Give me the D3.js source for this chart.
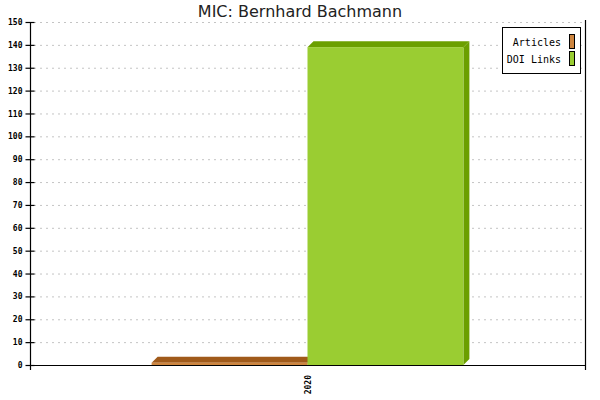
<!DOCTYPE html>
<html>
<head>
<meta charset="utf-8">
<script src="https://cdn.jsdelivr.net/npm/d3@7/dist/d3.min.js"></script>
<style>
  body { margin: 0; background: #fff; }
  svg { display: block; }
</style>
</head>
<body>
<script>
// chart data
var categories = ["2020"];
var seriesNames = ["Articles", "DOI Links"];
var articles = [1];
var doiLinks = [139];
var yTicks = [0, 10, 20, 30, 40, 50, 60, 70, 80, 90, 100, 110, 120, 130, 140, 150];

var frontColors = ["#cd853f", "#9acd32"];
var darkColors = ["#a05a1a", "#6b9f00"];

var W = 600, H = 400;
var plotLeft = 30, plotRight = 585, plotTop = 22, plotBottom = 365;
var depth = 6;

var svg = d3.select("body").append("svg")
    .attr("width", W)
    .attr("height", H);

var x = d3.scaleBand().domain(categories).range([plotLeft, plotRight]).paddingInner(0).paddingOuter(0);
var inner = d3.scaleBand().domain(seriesNames).range([0, x.bandwidth()]).paddingOuter(0.78).paddingInner(0);
var y = d3.scaleLinear().domain([0, 150]).range([plotBottom, plotTop]);

// grid
svg.append("g")
    .selectAll("line")
    .data(yTicks.filter(function (d) { return d > 0; }))
    .enter().append("line")
    .attr("x1", plotLeft + 4)
    .attr("x2", plotRight)
    .attr("y1", function (d) { return y(d) + 0.5; })
    .attr("y2", function (d) { return y(d) + 0.5; })
    .attr("stroke", "#c4c4c4")
    .attr("stroke-dasharray", "2,4");

// bars
var rows = [];
categories.forEach(function (c, i) {
    rows.push({ cat: c, s: 0, v: articles[i] });
    rows.push({ cat: c, s: 1, v: doiLinks[i] });
});

var bars = svg.append("g").selectAll("g").data(rows).enter().append("g");

bars.each(function (d) {
    var g = d3.select(this);
    var x0 = x(d.cat) + inner(seriesNames[d.s]);
    var w = inner.bandwidth();
    var y0 = y(d.v);
    var h = plotBottom - y0;
    // top face
    g.append("path")
        .attr("d", "M" + x0 + "," + y0 + "L" + (x0 + depth) + "," + (y0 - depth) +
            "L" + (x0 + w + depth) + "," + (y0 - depth) + "L" + (x0 + w) + "," + y0 + "Z")
        .attr("fill", darkColors[d.s]);
    // side face
    g.append("path")
        .attr("d", "M" + (x0 + w) + "," + y0 + "L" + (x0 + w + depth) + "," + (y0 - depth) +
            "L" + (x0 + w + depth) + "," + (plotBottom - depth) + "L" + (x0 + w) + "," + plotBottom + "Z")
        .attr("fill", darkColors[d.s]);
    // front
    g.append("rect")
        .attr("x", x0)
        .attr("y", y0)
        .attr("width", w)
        .attr("height", h)
        .attr("fill", frontColors[d.s]);
});

// y axis
var yAxis = d3.axisLeft(y).tickValues(yTicks).tickSize(5).tickPadding(6);
var gy = svg.append("g")
    .attr("transform", "translate(" + (plotLeft + 0.5) + ",0)")
    .call(yAxis);
gy.select(".domain").remove();
gy.selectAll(".tick line").attr("x2", 4).attr("x1", -5).attr("stroke", "#000").attr("stroke-width", 1.2);
gy.selectAll(".tick text")
    .attr("x", -8)
    .style("font-family", "DejaVu Sans Mono, monospace")
    .style("font-size", "8px")
    .style("font-weight", "bold")
    .attr("fill", "#000");

// axis lines
svg.append("line")
    .attr("x1", plotLeft + 0.5).attr("x2", plotLeft + 0.5)
    .attr("y1", plotTop).attr("y2", plotBottom + 5)
    .attr("stroke", "#000").attr("stroke-width", 1.2);
svg.append("line")
    .attr("x1", plotRight + 0.5).attr("x2", plotRight + 0.5)
    .attr("y1", plotTop - 2).attr("y2", plotBottom + 5)
    .attr("stroke", "#000").attr("stroke-width", 1.2);
svg.append("line")
    .attr("x1", plotLeft).attr("x2", plotRight)
    .attr("y1", plotBottom + 0.5).attr("y2", plotBottom + 0.5)
    .attr("stroke", "#000").attr("stroke-width", 1.2);

// x labels
svg.append("g").selectAll("text")
    .data(categories)
    .enter().append("text")
    .attr("transform", function (d) {
        return "translate(" + (x(d) + x.bandwidth() / 2 + 3) + "," + (plotBottom + 10) + ") rotate(-90)";
    })
    .attr("text-anchor", "end")
    .style("font-family", "DejaVu Sans Mono, monospace")
    .style("font-size", "8px")
    .style("font-weight", "bold")
    .text(function (d) { return d; });

// title
svg.append("text")
    .attr("x", 300)
    .attr("y", 17)
    .attr("text-anchor", "middle")
    .style("font-family", "DejaVu Sans, sans-serif")
    .style("font-size", "16px")
    .attr("fill", "#222")
    .text("MIC: Bernhard Bachmann");

// legend
var lg = svg.append("g");
lg.append("rect")
    .attr("x", 502.5).attr("y", 27.5)
    .attr("width", 78).attr("height", 46)
    .attr("fill", "#fff").attr("stroke", "#000");
seriesNames.forEach(function (s, i) {
    lg.append("rect")
        .attr("x", 569.5).attr("y", 34.5 + i * 17)
        .attr("width", 5).attr("height", 14)
        .attr("fill", frontColors[i]).attr("stroke", "#000");
    lg.append("text")
        .attr("x", 561)
        .attr("y", 46 + i * 17)
        .attr("text-anchor", "end")
        .style("font-family", "DejaVu Sans Mono, monospace")
        .style("font-size", "10px")
        .text(s);
});
</script>
</body>
</html>
